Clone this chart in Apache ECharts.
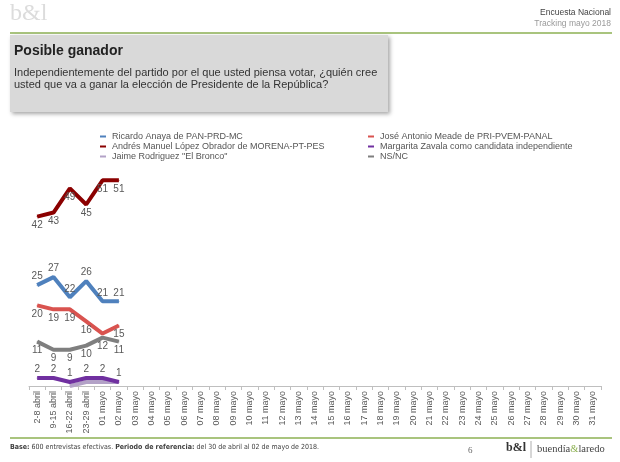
<!DOCTYPE html>
<html>
<head>
<meta charset="utf-8">
<script src="https://cdn.jsdelivr.net/npm/echarts@6/dist/echarts.min.js"></script>
<style>
html,body{margin:0;padding:0;background:#fff;}
#c{width:620px;height:462px;}
</style>
</head>
<body>
<div id="c"></div>
<script>
var categories = ['2-8 abril','9-15 abril','16-22 abril','23-29 abril',
  '01 mayo','02 mayo','03 mayo','04 mayo','05 mayo','06 mayo','07 mayo','08 mayo','09 mayo','10 mayo',
  '11 mayo','12 mayo','13 mayo','14 mayo','15 mayo','16 mayo','17 mayo','18 mayo','19 mayo','20 mayo',
  '21 mayo','22 mayo','23 mayo','24 mayo','25 mayo','26 mayo','27 mayo','28 mayo','29 mayo','30 mayo','31 mayo'];
var anaya   = [25, 27, 22, 26, 21, 21];
var meade   = [20, 19, 19, 16, 13, 15];
var amlo    = [42, 43, 49, 45, 51, 51];
var zavala  = [2, 2, 1, 2, 2, 1];
var bronco  = [null, null, 0, 1, 1, 1];
var nsnc    = [11, 9, 9, 10, 12, 11];
var names = ['Ricardo Anaya de PAN-PRD-MC','José Antonio Meade de PRI-PVEM-PANAL',
  'Andrés Manuel López Obrador de MORENA-PT-PES','Margarita Zavala como candidata independiente',
  'Jaime Rodriguez "El Bronco"','NS/NC'];

var chart = echarts.init(document.getElementById('c'));
function ser(name, data, color, pos, z, showLabel){
  return {
    name:name, type:'line', data:data, z:z,
    symbol:'circle', symbolSize:1, showSymbol:true,
    lineStyle:{width:4, color:color}, itemStyle:{color:color},
    label:{show:showLabel, position:pos, distance:3, color:'#595959', fontSize:10, fontFamily:'Liberation Sans'},
    labelLayout:{hideOverlap:true},
    emphasis:{disabled:true}
  };
}
var legendCommon = {
  orient:'vertical', icon:'rect', itemWidth:6, itemHeight:2, itemGap:1,
  textStyle:{fontSize:9, color:'#555', fontFamily:'Liberation Sans', padding:[0,0,0,1]},
  selectedMode:false
};
chart.setOption({
  animation:false,
  grid:{left:29, right:19, top:144, bottom:76},
  xAxis:{
    type:'category', data:categories, boundaryGap:true,
    axisLine:{lineStyle:{color:'#bfbfbf'}},
    axisTick:{show:true, length:4, lineStyle:{color:'#bfbfbf'}},
    axisLabel:{rotate:90, interval:0, fontSize:9, color:'#595959', fontFamily:'Liberation Sans', margin:5}
  },
  yAxis:{type:'value', min:0, max:60, show:false, splitLine:{show:false}},
  legend:[
    Object.assign({left:95, top:127, data:[names[0], names[2], names[4]]}, legendCommon),
    Object.assign({left:363, top:127, data:[names[1], names[3], names[5]]}, legendCommon)
  ],
  series:[
    ser(names[4], bronco, '#b3a2c7', 'top', 1, false),
    ser(names[5], nsnc, '#7f7f7f', 'bottom', 2, true),
    ser(names[3], zavala, '#7030a0', 'top', 3, true),
    ser(names[1], meade, '#d9534f', 'bottom', 4, true),
    ser(names[0], anaya, '#4f81bd', 'top', 5, true),
    ser(names[2], amlo, '#8b0000', 'bottom', 6, true)
  ],
  graphic:[
    {type:'text', left:10, top:2, style:{text:'b&l', font:'24px "Liberation Serif"', fill:'#dcdcdc'}},
    {type:'text', right:9, top:8, style:{text:'Encuesta Nacional', font:'8.5px "Liberation Sans"', fill:'#444', textAlign:'right'}},
    {type:'text', right:9, top:19, style:{text:'Tracking mayo 2018', font:'8.5px "Liberation Sans"', fill:'#9a9a9a', textAlign:'right'}},
    {type:'line', shape:{x1:10, y1:33, x2:612, y2:33}, style:{stroke:'#8db153', lineWidth:1.5}},
    {type:'rect', shape:{x:10, y:35, width:378, height:77},
      style:{fill:'#d9d9d9', shadowBlur:4, shadowOffsetX:2, shadowOffsetY:2, shadowColor:'rgba(0,0,0,0.35)'}},
    {type:'text', left:14, top:44, style:{text:'Posible ganador', font:'bold 14px "Liberation Sans"', fill:'#222'}},
    {type:'text', left:14, top:67, style:{text:'Independientemente del partido por el que usted piensa votar, ¿quién cree\nusted que va a ganar la elección de Presidente de la República?', font:'11px "Liberation Sans"', fill:'#333', lineHeight:12}},
    {type:'line', shape:{x1:10, y1:438, x2:612, y2:438}, style:{stroke:'#8db153', lineWidth:1.5}},
    {type:'text', left:10, top:444, style:{
      text:'{b|Base:} 600 entrevistas efectivas. {b|Periodo de referencia:} del 30 de abril al 02 de mayo de 2018.',
      font:'7px "DejaVu Sans Condensed", "DejaVu Sans"', fill:'#404040',
      rich:{b:{fontWeight:'bold', fontSize:7, fontFamily:'DejaVu Sans Condensed', fill:'#404040'}}}},
    {type:'text', left:468, top:446, style:{text:'6', font:'9px "Liberation Serif"', fill:'#666'}},
    {type:'text', left:506, top:442, style:{text:'b&l', font:'bold 12px "Liberation Serif"', fill:'#333'}},
    {type:'line', shape:{x1:531, y1:441, x2:531, y2:458}, style:{stroke:'#999', lineWidth:0.8}},
    {type:'text', left:537, top:444, style:{text:'buendía{g|&}laredo', font:'10.5px "Liberation Serif"', fill:'#444',
      rich:{g:{fill:'#8db153', fontSize:10.5, fontFamily:'Liberation Serif'}}}}
  ]
});
</script>
</body>
</html>
